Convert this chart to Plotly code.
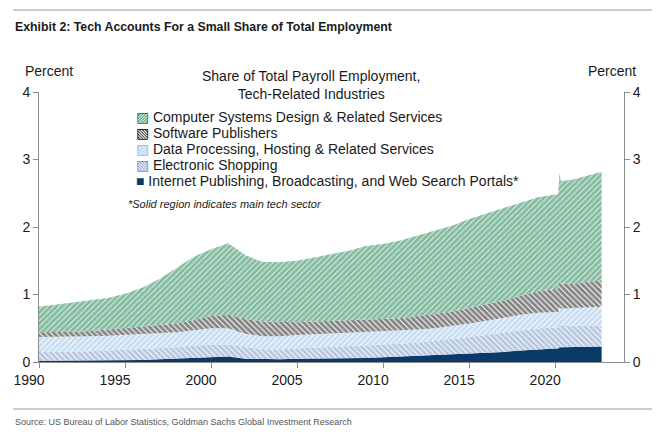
import plotly.graph_objects as go

# ---- data (percent of total payroll employment) ----
years = [1990, 1991, 1992, 1993, 1994, 1995, 1996, 1997, 1998, 1999,
         2000, 2001, 2002, 2003, 2004, 2005, 2006, 2007, 2008, 2009,
         2010, 2011, 2012, 2013, 2014, 2015, 2016, 2017, 2018, 2019,
         2020.0, 2020.17, 2020.25, 2020.33, 2021, 2022, 2022.7]

internet = [0.02, 0.02, 0.02, 0.02, 0.03, 0.03, 0.03, 0.04, 0.05, 0.06,
            0.08, 0.08, 0.05, 0.04, 0.04, 0.05, 0.05, 0.05, 0.06, 0.06,
            0.07, 0.08, 0.09, 0.10, 0.11, 0.13, 0.14, 0.15, 0.17, 0.19,
            0.20, 0.20, 0.22, 0.22, 0.22, 0.23, 0.23]
electronic = [0.13, 0.13, 0.14, 0.14, 0.14, 0.15, 0.16, 0.16, 0.17, 0.18,
              0.18, 0.18, 0.17, 0.15, 0.15, 0.15, 0.16, 0.17, 0.17, 0.18,
              0.18, 0.19, 0.20, 0.21, 0.23, 0.24, 0.26, 0.29, 0.30, 0.31,
              0.31, 0.31, 0.34, 0.32, 0.32, 0.31, 0.31]
dataproc = [0.22, 0.22, 0.21, 0.22, 0.22, 0.22, 0.22, 0.22, 0.22, 0.23,
            0.24, 0.24, 0.20, 0.19, 0.19, 0.20, 0.20, 0.21, 0.21, 0.21,
            0.20, 0.19, 0.19, 0.19, 0.19, 0.20, 0.21, 0.22, 0.23, 0.23,
            0.23, 0.23, 0.26, 0.25, 0.26, 0.27, 0.28]
software = [0.07, 0.07, 0.08, 0.08, 0.09, 0.10, 0.11, 0.12, 0.13, 0.15,
            0.18, 0.20, 0.22, 0.22, 0.21, 0.19, 0.19, 0.18, 0.18, 0.19,
            0.19, 0.19, 0.20, 0.21, 0.22, 0.23, 0.24, 0.25, 0.28, 0.32,
            0.34, 0.34, 0.40, 0.37, 0.36, 0.38, 0.39]
compsys = [0.38, 0.41, 0.43, 0.46, 0.47, 0.51, 0.58, 0.69, 0.83, 0.94,
           0.99, 1.06, 0.94, 0.88, 0.89, 0.91, 0.95, 0.99, 1.03, 1.08,
           1.11, 1.15, 1.19, 1.23, 1.27, 1.32, 1.35, 1.37, 1.38, 1.39,
           1.40, 1.40, 1.58, 1.52, 1.54, 1.58, 1.61]

x_ticks = [1990, 1995, 2000, 2005, 2010, 2015, 2020]
y_ticks = [0, 1, 2, 3, 4]

names = ["Internet Publishing, Broadcasting, and Web Search Portals*",
         "Electronic Shopping",
         "Data Processing, Hosting & Related Services",
         "Software Publishers",
         "Computer Systems Design & Related Services"]

# ---- styles ----
NAVY = "#0b3a68"
ELEC = "#7090c4"
LBLUE = "#90bbe8"
BLACK = "#0a0a0a"
GREEN = "#0b7a43"
AXIS = "#8c8c8c"
TXT = "#1a1a1a"
FONT = "Liberation Sans, Arial, sans-serif"
NARROW = "Liberation Sans Narrow, Arial Narrow, Liberation Sans, sans-serif"

W, H = 660, 435
ML, MR, MT, MB = 39, 36, 92, 73
PW, PH = W - ML - MR, H - MT - MB


def px(x):
    return (x - ML) / PW


def py(y):
    return (H - MB - y) / PH


series = [
    (names[0], internet, NAVY, None, 0),
    (names[1], electronic, ELEC, "\\", 0.75),
    (names[2], dataproc, LBLUE, "/", 0.75),
    (names[3], software, BLACK, "\\", 0.72),
    (names[4], compsys, GREEN, "/", 0.8),
]

fig = go.Figure()
for name, vals, col, shp, sol in series:
    kw = dict(x=years, y=vals, name=name, mode="lines", stackgroup="one",
              line=dict(width=0, color=col), showlegend=False,
              hoverinfo="x+y+name")
    if shp is None:
        kw["fillcolor"] = col
    else:
        kw["fillcolor"] = "white"
        kw["fillpattern"] = dict(shape=shp, fgcolor=col, bgcolor="white",
                                 size=4, solidity=sol)
    fig.add_trace(go.Scatter(**kw))

# invisible trace on the right axis so that it is drawn
fig.add_trace(go.Scatter(x=[years[0]], y=[0], yaxis="y2", mode="markers",
                         marker=dict(opacity=0), showlegend=False,
                         hoverinfo="skip"))

axis_common = dict(showline=True, linecolor=AXIS, linewidth=1, ticks="outside",
                   ticklen=5, tickcolor=AXIS, showgrid=False, zeroline=False,
                   tickfont=dict(family=FONT, size=14, color=TXT))

fig.update_layout(
    width=W, height=H,
    margin=dict(l=ML, r=MR, t=MT, b=MB),
    paper_bgcolor="white", plot_bgcolor="white",
    xaxis=dict(range=[1990, 2024], tickvals=x_ticks, ticktext=[str(t) for t in x_ticks],
               ticklabelshift=-10, **axis_common),
    yaxis=dict(range=[0, 4], tickvals=y_ticks, **axis_common),
    yaxis2=dict(range=[0, 4], tickvals=y_ticks, overlaying="y", side="right",
                **axis_common),
    showlegend=False,
)

ann = []
ann.append(dict(x=px(13), y=py(27), text="<b>Exhibit 2: Tech Accounts For a Small Share of Total Employment</b>",
                xanchor="left", yanchor="middle",
                font=dict(family=NARROW, size=12.3, color=TXT)))
ann.append(dict(x=px(13), y=py(422), text="Source: US Bureau of Labor Statistics, Goldman Sachs Global Investment Research",
                xanchor="left", yanchor="middle",
                font=dict(family=NARROW, size=9, color="#555555")))
ann.append(dict(x=px(49), y=py(71), text="Percent", xanchor="center", yanchor="middle",
                font=dict(family=FONT, size=14, color=TXT)))
ann.append(dict(x=px(612), y=py(71), text="Percent", xanchor="center", yanchor="middle",
                font=dict(family=FONT, size=14, color=TXT)))
ann.append(dict(x=px(311), y=py(85), text="Share of Total Payroll Employment,<br>Tech-Related Industries",
                xanchor="center", yanchor="middle",
                font=dict(family=FONT, size=14, color=TXT)))

leg_rows = [
    (names[4], GREEN, "\u25A8"),
    (names[3], BLACK, "\u25A7"),
    (names[2], LBLUE, "\u25A8"),
    (names[1], ELEC, "\u25A7"),
    (names[0], NAVY, "\u25A0"),
]
for i, (name, col, sym) in enumerate(leg_rows):
    ann.append(dict(x=px(134), y=py(117 + 16 * i),
                    text=f"<span style='color:{col}'>{sym}</span> {name}",
                    xanchor="left", yanchor="middle",
                    font=dict(family=FONT, size=14, color=TXT)))
ann.append(dict(x=px(126), y=py(204), text="<i>*Solid region indicates main tech sector</i>",
                xanchor="left", yanchor="middle",
                font=dict(family=FONT, size=11, color=TXT)))

for a in ann:
    a.update(xref="paper", yref="paper", showarrow=False)
fig.update_layout(annotations=ann)

fig.add_shape(type="line", xref="paper", yref="paper", x0=px(13), x1=px(652),
              y0=py(10), y1=py(10), line=dict(color="#9a9a9a", width=1))
fig.add_shape(type="line", xref="paper", yref="paper", x0=px(13), x1=px(652),
              y0=py(409), y1=py(409), line=dict(color="#9a9a9a", width=1))

fig.write_html("out.html", config={"displayModeBar": False},
               post_script="document.body.style.margin='0';")
